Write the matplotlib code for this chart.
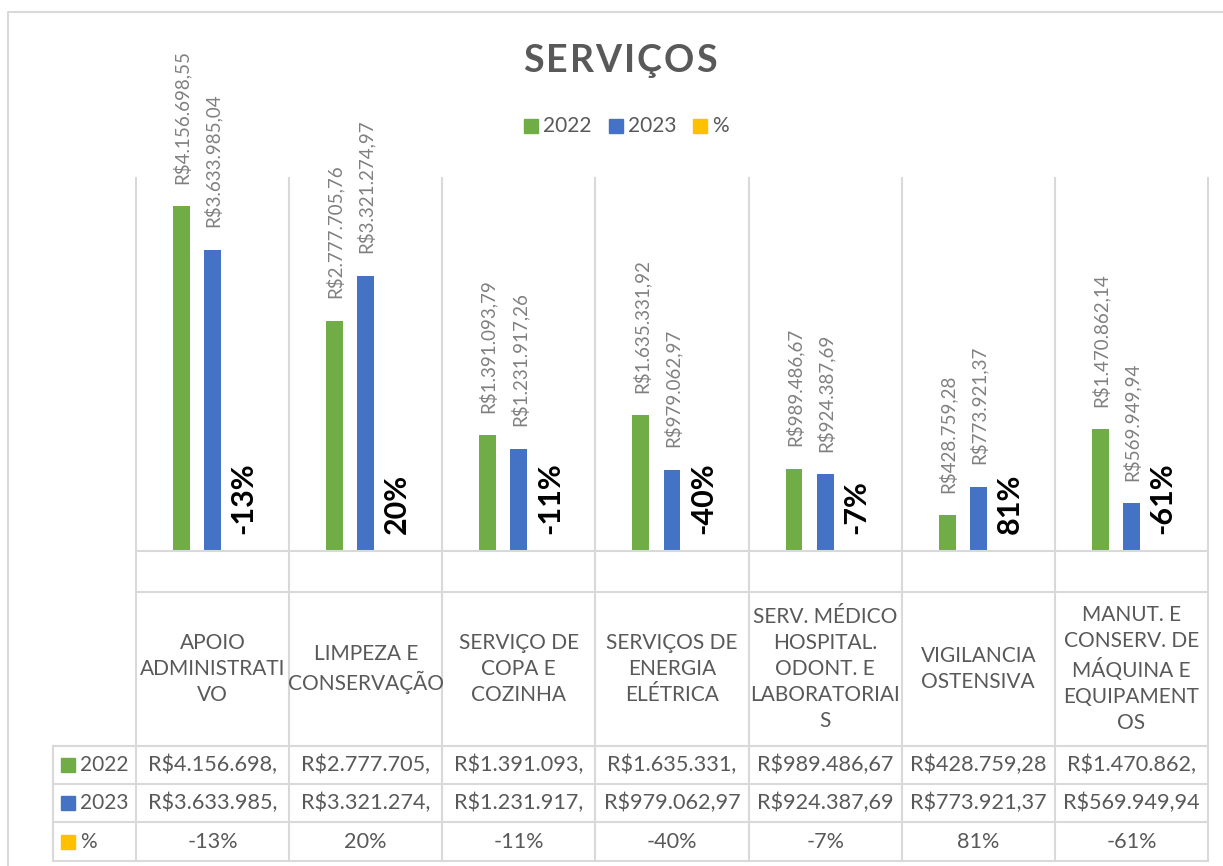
import matplotlib
matplotlib.use("Agg")
import matplotlib.pyplot as plt
import numpy as np

plt.rcParams['font.family'] = ['Lato', 'DejaVu Sans']

categorias = ["APOIO\nADMINISTRATI\nVO",
              "LIMPEZA E\nCONSERVAÇÃO",
              "SERVIÇO DE\nCOPA E\nCOZINHA",
              "SERVIÇOS DE\nENERGIA\nELÉTRICA",
              "SERV. MÉDICO\nHOSPITAL.\nODONT. E\nLABORATORIAI\nS",
              "VIGILANCIA\nOSTENSIVA",
              "MANUT. E\nCONSERV. DE\nMÁQUINA E\nEQUIPAMENT\nOS"]
v2022 = [4156698.55, 2777705.76, 1391093.79, 1635331.92, 989486.67, 428759.28, 1470862.14]
v2023 = [3633985.04, 3321274.97, 1231917.26, 979062.97, 924387.69, 773921.37, 569949.94]
pct = [-13, 20, -11, -40, -7, 81, -61]

VERDE = '#70AD47'
AZUL = '#4472C4'
AMARELO = '#FFC000'
CINZA = '#595959'
GRADE = '#D9D9D9'


def brl(v):
    s = f"{v:,.2f}".replace(",", "X").replace(".", ",").replace("X", ".")
    return "R$" + s


W, H = 1223, 866
fig = plt.figure(figsize=(W / 100, H / 100), dpi=100)

# layout in pixels
x0, x1 = 136, 1208
ytop, ybot = 178, 592
ax = fig.add_axes([x0 / W, 1 - ybot / H, (x1 - x0) / W, (ybot - ytop) / H])
n = len(categorias)
x = np.arange(n)
bw = 0.11
off = 0.203
ax.bar(x - off, v2022, bw, color=VERDE)
ax.bar(x, v2023, bw, color=AZUL)
ax.bar(x + off, [p / 100 for p in pct], bw, color=AMARELO)
ax.set_xlim(-0.5, n - 0.5)
ax.set_ylim(-500000, 4500000)
ax.axis('off')
ax.axhline(0, color=GRADE, lw=1.5)

for i in range(n):
    ax.annotate(brl(v2022[i]), (x[i] - off, v2022[i]), xytext=(0, 16),
                textcoords='offset points', rotation=90, ha='center', va='bottom',
                fontsize=13.5, color='#808080')
    ax.annotate(brl(v2023[i]), (x[i], v2023[i]), xytext=(0, 16),
                textcoords='offset points', rotation=90, ha='center', va='bottom',
                fontsize=13.5, color='#808080')
    ax.annotate(f"{pct[i]}%", (x[i] + off, 0), xytext=(0, 12),
                textcoords='offset points', rotation=90, ha='center', va='bottom',
                fontsize=22, fontweight='bold', color='black')

# overlay in pixel coordinates for frame, title, legend and data table
ov = fig.add_axes([0, 0, 1, 1], zorder=-1)
ov.set_xlim(0, W)
ov.set_ylim(H, 0)
ov.axis('off')

# chart border (cropped on right/bottom)
ov.plot([8, 8, W + 5], [H + 5, 12, 12], color=GRADE, lw=1.5)

cw = (x1 - x0) / n
rows = [592, 746, 784, 822, 861]
hx = 53
# vertical lines
for i in range(n + 1):
    xx = x0 + i * cw
    ov.plot([xx, xx], [ytop, rows[-1]], color=GRADE, lw=1.5)
ov.plot([hx, hx], [rows[1], rows[-1]], color=GRADE, lw=1.5)
# horizontal lines
ov.plot([x0, x1], [rows[0], rows[0]], color=GRADE, lw=1.5)
for r in rows[1:]:
    ov.plot([hx, x1], [r, r], color=GRADE, lw=1.5)

# category labels
for i, c in enumerate(categorias):
    ov.text(x0 + (i + 0.5) * cw, (rows[0] + rows[1]) / 2, c, ha='center', va='center',
            fontsize=15, color=CINZA, linespacing=1.37)

# table rows
series = [("2022", VERDE, [brl(v)[:12] for v in v2022]),
          ("2023", AZUL, [brl(v)[:12] for v in v2023]),
          ("%", AMARELO, [f"{p}%" for p in pct])]
for k, (nome, cor, vals) in enumerate(series):
    yc = (rows[k + 1] + rows[k + 2]) / 2
    ov.add_patch(plt.Rectangle((61, yc - 7), 14, 14, color=cor))
    ov.text(80, yc, nome, ha='left', va='center', fontsize=15, color=CINZA)
    for i, s in enumerate(vals):
        ov.text(x0 + (i + 0.5) * cw, yc, s, ha='center', va='center', fontsize=15.6, color=CINZA)

# legend
for nome, cor, lx in [("2022", VERDE, 524), ("2023", AZUL, 609), ("%", AMARELO, 693)]:
    ov.add_patch(plt.Rectangle((lx, 119), 14, 14, color=cor))
    ov.text(lx + 19, 126, nome, ha='left', va='center', fontsize=15, color=CINZA)

# title with letter spacing
r = fig.canvas.get_renderer()
titulo = "SERVIÇOS"
tkw = dict(fontsize=27, fontweight='bold', color=CINZA)
larg = []
for ch in titulo:
    t = ov.text(0, 0, ch, **tkw)
    larg.append(t.get_window_extent(r).width)
    t.remove()
esp = 2
tx = 620 - (sum(larg) + esp * (len(titulo) - 1)) / 2
for ch, w in zip(titulo, larg):
    ov.text(tx, 61, ch, ha='left', va='center', **tkw)
    tx += w + esp

fig.savefig("out.png", dpi=100)
